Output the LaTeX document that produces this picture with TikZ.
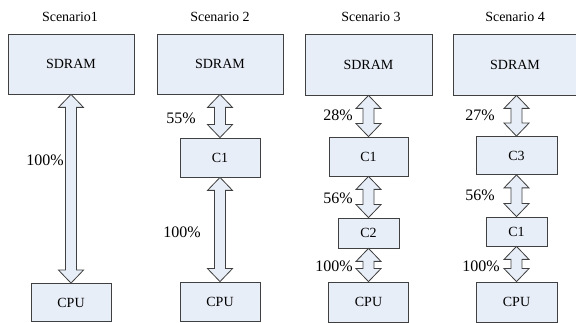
\documentclass[tikz,border=0pt]{standalone}
\usepackage{fontspec}
\setmainfont{Liberation Serif}
\newfontfamily\timesfont{Liberation Serif}
\usepackage{tikz}
\usepackage{xcolor}
\usetikzlibrary{calc}
\definecolor{boxfill}{HTML}{E8EEF8}
\definecolor{boxline}{HTML}{404040}
\tikzset{
	unit/.style={draw=boxline, fill=boxfill, line width=0.8, inner sep=0, font=\timesfont\fontsize{14}{16}\selectfont},
	pct/.style={anchor=east, inner sep=0, font=\timesfont\fontsize{16}{18}\selectfont},
	title/.style={inner sep=0, font=\timesfont\fontsize{14}{16}\selectfont},
	bus/.style={draw=boxline, fill=boxfill, line width=0.8, line join=miter}
}
\newcommand{\busarrow}[2]{%
	\draw[bus] let \p1=(#1.south), \p2=(#2.north) in
		(\x2,\y1) -- (\x2+12.5pt,\y1-13pt) -- (\x2+5.5pt,\y1-13pt) -- (\x2+5.5pt,\y2+13pt)
		-- (\x2+12.5pt,\y2+13pt) -- (\x2,\y2) -- (\x2-12.5pt,\y2+13pt) -- (\x2-5.5pt,\y2+13pt)
		-- (\x2-5.5pt,\y1-13pt) -- (\x2-12.5pt,\y1-13pt) -- cycle;}

\begin{document}
\begin{tikzpicture}[x=1pt, y=-1pt]
	\useasboundingbox (0,0) rectangle (576,323);
	% Scenario 1
	\node[title] (t1) at (70,17) {Scenario1};
	\node[unit, minimum width=126, minimum height=60] (sdramA) at (71,64) {SDRAM};
	\node[unit, minimum width=80, minimum height=38] (cpuA) at (71,302.5) {CPU};
	\busarrow{sdramA}{cpuA}
	\node[pct] at (64,160) {100\%};
	% Scenario 2
	\node[title] (t2) at (220,17) {Scenario 2};
	\node[unit, minimum width=126, minimum height=60] (sdramB) at (220,64) {SDRAM};
	\node[unit, minimum width=80, minimum height=39] (cOneB) at (220,157.5) {C1};
	\node[unit, minimum width=80, minimum height=39] (cpuB) at (220,301.5) {CPU};
	\busarrow{sdramB}{cOneB}
	\busarrow{cOneB}{cpuB}
	\node[pct] at (196,118) {55\%};
	\node[pct] at (201,232) {100\%};
	% Scenario 3
	\node[title] (t3) at (371,17) {Scenario 3};
	\node[unit, minimum width=127, minimum height=61] (sdramC) at (368.5,64.5) {SDRAM};
	\node[unit, minimum width=79, minimum height=39] (cOneC) at (368.5,156.5) {C1};
	\node[unit, minimum width=61, minimum height=30] (cTwoC) at (368.5,233) {C2};
	\node[unit, minimum width=80, minimum height=40] (cpuC) at (368.5,302) {CPU};
	\busarrow{sdramC}{cOneC}
	\busarrow{cOneC}{cTwoC}
	\busarrow{cTwoC}{cpuC}
	\node[pct] at (353,115) {28\%};
	\node[pct] at (353,198) {56\%};
	\node[pct] at (353,266) {100\%};
	% Scenario 4
	\node[title] (t4) at (515,17) {Scenario 4};
	\node[unit, minimum width=123, minimum height=61] (sdramD) at (515,64.5) {SDRAM};
	\node[unit, minimum width=81, minimum height=38] (cThreeD) at (516.5,155.5) {C3};
	\node[unit, minimum width=61, minimum height=29] (cOneD) at (516.5,231.5) {C1};
	\node[unit, minimum width=81, minimum height=40] (cpuD) at (516.5,302) {CPU};
	\busarrow{sdramD}{cThreeD}
	\busarrow{cThreeD}{cOneD}
	\busarrow{cOneD}{cpuD}
	\node[pct] at (495,115) {27\%};
	\node[pct] at (495,195) {56\%};
	\node[pct] at (500,266) {100\%};
\end{tikzpicture}
\end{document}
